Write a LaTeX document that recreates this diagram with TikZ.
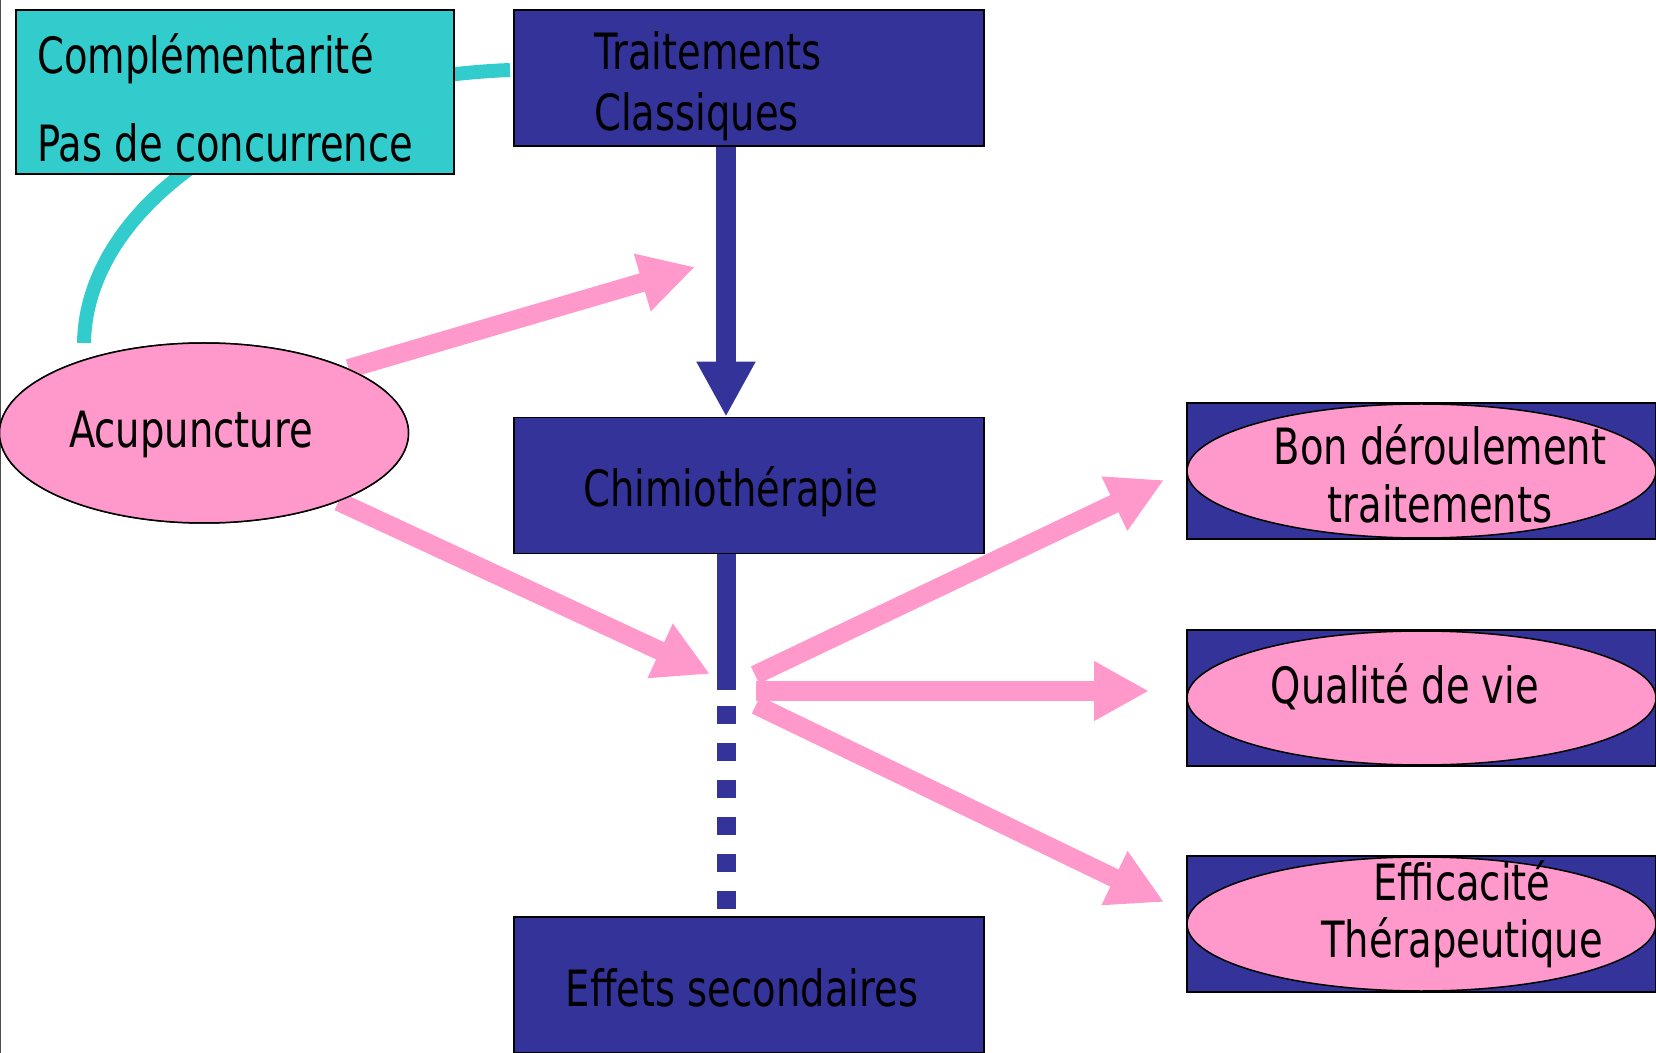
\documentclass[tikz,border=0pt]{standalone}
\usepackage{fontspec}
\setmainfont{DejaVu Sans}[FakeStretch=0.77]
\usetikzlibrary{arrows.meta,shapes.geometric}
\definecolor{navy}{HTML}{333399}
\definecolor{tealc}{HTML}{33CCCC}
\definecolor{rose}{HTML}{FF99CC}
\begin{document}
\begin{tikzpicture}[x=0.5pt,y=-0.5pt,
  bluebox/.style={draw=black, line width=0.75pt, fill=navy, rectangle, inner sep=0pt, minimum width=235pt, minimum height=68pt},
  rightbox/.style={draw=black, line width=0.75pt, fill=navy, rectangle, inner sep=0pt, minimum width=234.5pt, minimum height=68pt},
  rightell/.style={draw=black, line width=0.75pt, fill=rose, ellipse, inner sep=0pt, minimum width=234.5pt, minimum height=67pt},
  lbl/.style={font=\fontsize{25}{29}\selectfont, text=black, inner sep=0pt, align=center},
  pinkarrow/.style={draw=rose, line width=9.5pt, -{Triangle[width=28pt,length=27.5pt]}},
  cyanline/.style={draw=tealc, line width=7pt},
  navyline/.style={draw=navy, line width=9.5pt}
]
\useasboundingbox (0,0) rectangle (1656,1053);
\draw[black!70, line width=0.6pt] (0.6,0) -- (0.6,1053);

% coordinates
\coordinate (vx) at (726,0);
\coordinate (cstart) at (84,343);
\coordinate (cend) at (510,70);
\coordinate (solidend) at (726,690);
\coordinate (dstart) at (726,706);
\coordinate (dend) at (726,909);
\coordinate (tip1) at (695,267);
\coordinate (tip2) at (710,674);
\coordinate (s3) at (755,675);
\coordinate (t3) at (1164,480);
\coordinate (s4) at (756,691);
\coordinate (t4) at (1149,691);
\coordinate (s5) at (756,705);
\coordinate (t5) at (1164,902);

% cyan link
\draw[cyanline] (cstart) .. controls (86,205) and (260,80) .. (cend);

% boxes
\node[draw=black, line width=0.75pt, fill=tealc, rectangle, inner sep=0pt, minimum width=219pt, minimum height=82pt] (compl) at (235,92) {};
\node[lbl, anchor=west, align=left, font=\fontsize{25}{44}\selectfont] (compl-t) at (37,98) {Complémentarité\\Pas de concurrence};

\node[bluebox] (trait) at (749,78) {};
\node[lbl, anchor=west, align=left, font=\fontsize{25}{30.5}\selectfont] (trait-t) at (594,86) {Traitements\\Classiques};

\node[bluebox] (chimio) at (749,485.5) {};
\node[lbl] (chimio-t) at (731,492) {Chimiothérapie};

\node[bluebox] (effets) at (749,985) {};
\node[lbl] (effets-t) at (742,988) {Effets secondaires};

% navy connectors
\draw[navyline, line width=10pt, -{Triangle[width=27.5pt,length=27.5pt]}] (trait.south -| vx) -- (chimio.north -| vx);
\draw[navyline] (chimio.south -| vx) -- (solidend);
\draw[navyline, dash pattern=on 9pt off 9.5pt] (dstart) -- (dend);

% acupuncture
\node[draw=black, line width=0.75pt, fill=rose, ellipse, inner sep=0pt, minimum width=204.5pt, minimum height=90pt] (acu) at (204,433) {};
\draw[pinkarrow] (acu.24) -- (tip1);
\draw[pinkarrow] (acu.-27) -- (tip2);
\node[draw=black, line width=0.75pt, fill=rose, ellipse, inner sep=0pt, minimum width=204.5pt, minimum height=90pt] at (acu) {};
\node[lbl] (acu-t) at (191,434) {Acupuncture};

% right side
\node[rightbox] (bonbox) at (1421.5,471) {};
\node[rightell] (bon) at (bonbox) {};
\node[lbl] (bon-t) at (1440,474) {Bon déroulement\\traitements};

\node[rightbox] (qualbox) at (1421.5,698) {};
\node[rightell] (qual) at (qualbox) {};
\node[lbl] (qual-t) at (1405,687) {Qualité de vie};

\node[rightbox] (effbox) at (1421.5,924) {};
\node[rightell] (eff) at (effbox) {};
\node[lbl, font=\fontsize{25}{28.5}\selectfont] (eff-t) at (1462,914) {Efficacité\\Thérapeutique};

% fan arrows
\draw[pinkarrow] (s3) -- (t3);
\draw[pinkarrow] (s4) -- (t4);
\draw[pinkarrow] (s5) -- (t5);
\end{tikzpicture}
\end{document}
